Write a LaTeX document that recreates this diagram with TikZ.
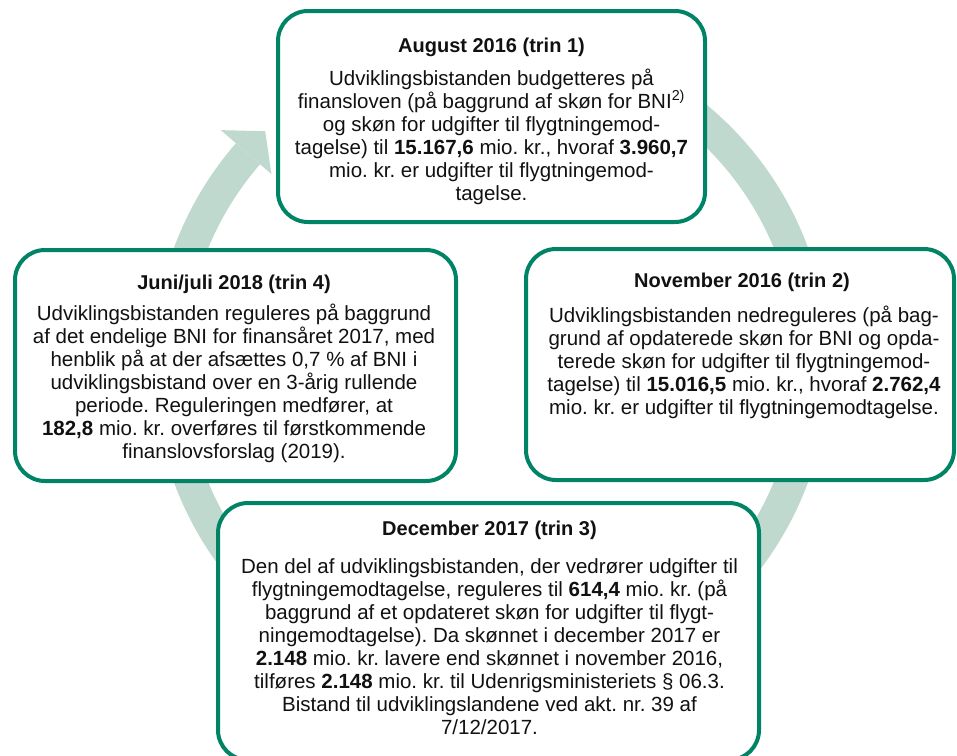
\documentclass[tikz,border=0pt]{standalone}
\usepackage{fontspec}
\setmainfont{Liberation Sans}
\definecolor{boxgreen}{RGB}{0,132,101}
\definecolor{ringcol}{RGB}{191,217,207}
\definecolor{txt}{RGB}{17,17,17}
\tikzset{
  boxstyle/.style={draw=boxgreen, line width=4pt, fill=white, rounded corners=30pt, inner sep=0pt, rectangle},
  titlestyle/.style={font=\fontsize{20}{23}\selectfont\bfseries, anchor=base, inner sep=0pt, text=txt},
  bodystyle/.style={font=\fontsize{20.5}{23}\selectfont, align=center, anchor=north, inner sep=0pt, text=txt},
  ringstyle/.style={draw=ringcol, line width=32pt},
  headstyle/.style={fill=ringcol},
}
\newcommand{\fst}{\rule{0pt}{16pt}}
\frenchspacing
\begin{document}
\lineskiplimit=-50pt\relax
\frenchspacing
\begin{tikzpicture}[x=1pt,y=-1pt]
\useasboundingbox (0,0) rectangle (957,755);
% ring arrow
\coordinate (rc) at (491,365);
\path (rc) ++(260:322) coordinate (rtail);
\path (rc) ++(221:358) coordinate (ha);
\path (rc) ++(226:325) coordinate (ht);
\path (rc) ++(221:291) coordinate (hb);
\draw[ringstyle] (rtail) arc[start angle=260, end angle=581, radius=322];
\fill[headstyle] (ha) -- (ht) -- (hb) -- cycle;
% boxes
\node[boxstyle, minimum width=427pt, minimum height=211pt] (b1) at (491.5,116.5) {};
\node[boxstyle, minimum width=441pt, minimum height=231pt] (b4) at (235.5,365.5) {};
\node[boxstyle, minimum width=428pt, minimum height=231pt] (b2) at (740,364.5) {};
\node[boxstyle, minimum width=541pt, minimum height=257pt] (b3) at (488.5,631.5) {};
% top box
\node[titlestyle] (t1) at (491.5,52) {August 2016 (trin 1)};
\node[bodystyle] (x1) at (491.5,68.5) {\fst Udviklingsbistanden budgetteres på\\
finansloven (på baggrund af skøn for BNI\textsuperscript{2)}\\
og skøn for udgifter til flygtningemod-\\
tagelse) til \textbf{15.167,6} mio. kr., hvoraf \textbf{3.960,7}\\
mio. kr. er udgifter til flygtningemod-\\
tagelse.};
% right box
\node[titlestyle] (t2) at (742,287) {November 2016 (trin 2)};
\node[bodystyle] (x2) at (744,306) {\fst Udviklingsbistanden nedreguleres (på bag-\\
grund af opdaterede skøn for BNI og opda-\\
terede skøn for udgifter til flygtningemod-\\
tagelse) til \textbf{15.016,5} mio. kr., hvoraf \textbf{2.762,4}\\
mio. kr. er udgifter til flygtningemodtagelse.};
% left box
\node[titlestyle] (t4) at (234,289) {Juni/juli 2018 (trin 4)};
\node[bodystyle] (x4) at (234,304) {\fst Udviklingsbistanden reguleres på baggrund\\
af det endelige BNI for finansåret 2017, med\\
henblik på at der afsættes 0,7 \% af BNI i\\
udviklingsbistand over en 3-årig rullende\\
periode. Reguleringen medfører, at\\
\textbf{182,8} mio. kr. overføres til førstkommende\\
finanslovsforslag (2019).};
% bottom box
\node[titlestyle] (t3) at (489.5,535) {December 2017 (trin 3)};
\node[bodystyle] (x3) at (489.5,557) {\fst Den del af udviklingsbistanden, der vedrører udgifter til\\
flygtningemodtagelse, reguleres til \textbf{614,4} mio. kr. (på\\
baggrund af et opdateret skøn for udgifter til flygt-\\
ningemodtagelse). Da skønnet i december 2017 er\\
\textbf{2.148} mio. kr. lavere end skønnet i november 2016,\\
tilføres \textbf{2.148} mio. kr. til Udenrigsministeriets § 06.3.\\
Bistand til udviklingslandene ved akt. nr. 39 af\\
7/12/2017.};
\end{tikzpicture}
\end{document}
